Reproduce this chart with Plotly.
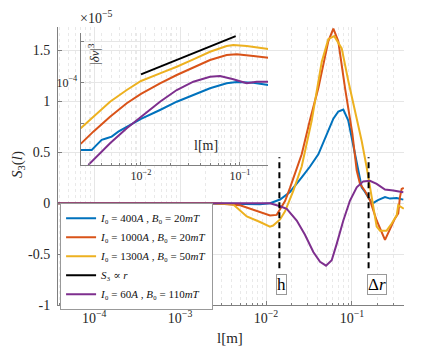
import plotly.graph_objects as go
import numpy as np

# ---------------- main panel: S3(l) in units of 1e-5 ----------------
l_400 = [3.8e-5, 4.5e-4, 0.00381, 0.00851, 0.01114, 0.01456, 0.01664, 0.0190, 0.0260, 0.0325,
         0.0406, 0.0530, 0.0607, 0.0693, 0.0793, 0.0906, 0.1084, 0.1297, 0.1416, 0.1618,
         0.1754, 0.2004, 0.2421, 0.2767, 0.3311, 0.3954]
s3_400 = [0, 0, -0.005, -0.01, 0.0, 0.036, 0.075, 0.11, 0.253, 0.36,
          0.48, 0.71, 0.83, 0.90, 0.92, 0.81, 0.48, 0.156, 0.11, 0.03,
          0.0, 0.03, 0.06, 0.045, 0.05, 0.035]

l_1000 = [3.8e-5, 0.00255, 0.00499, 0.00851, 0.01114, 0.0133, 0.01456, 0.01664, 0.0190, 0.0260,
          0.0325, 0.0406, 0.0530, 0.0607, 0.0693, 0.0830, 0.1011, 0.1135, 0.1239, 0.1416,
          0.1618, 0.1936, 0.2421, 0.2767, 0.3162, 0.3451, 0.3614, 0.3784, 0.40]
s3_1000 = [0, 0, -0.02, -0.088, -0.12, -0.115, -0.06, 0.02, 0.15, 0.48,
           0.82, 1.13, 1.59, 1.715, 1.59, 1.13, 0.68, 0.32, 0.19, 0.12,
           0.03, -0.17, -0.36, -0.25, -0.15, -0.10, 0.06, 0.14, 0.15]

l_1300 = [3.8e-5, 0.00223, 0.00413, 0.00597, 0.00851, 0.0111, 0.0121, 0.0133, 0.01456, 0.01664,
          0.02075, 0.0260, 0.0340, 0.0445, 0.0530, 0.0622, 0.0759, 0.0906, 0.1084, 0.1297,
          0.1483, 0.1694, 0.1936, 0.2118, 0.2529, 0.2897, 0.3311, 0.3451, 0.3784, 0.40]
s3_1300 = [0, 0, -0.01, -0.13, -0.185, -0.23, -0.22, -0.19, -0.16, -0.08,
           0.12, 0.36, 0.81, 1.39, 1.61, 1.64, 1.52, 1.20, 0.90, 0.61,
           0.35, 0.06, -0.23, -0.27, -0.27, -0.20, -0.12, -0.02, -0.04, -0.055]

l_60 = [3.8e-5, 0.01114, 0.01456, 0.01742, 0.02275, 0.02838, 0.0355, 0.0425, 0.0499, 0.0581,
        0.0664, 0.0793, 0.0948, 0.1135, 0.1352, 0.1618, 0.1936, 0.2421, 0.3020, 0.3451, 0.3954]
s3_60 = [0, 0, -0.03, -0.055, -0.17, -0.31, -0.48, -0.575, -0.614, -0.56,
         -0.40, -0.17, 0.026, 0.156, 0.214, 0.22, 0.19, 0.134, 0.124, 0.117, 0.107]

h_value = 0.0143     # position of "h" marker
dr_value = 0.156     # position of "Δr" marker

# ---------------- inset: |δv|^3 ----------------
li_400 = [0.00246, 0.00318, 0.00357, 0.00401, 0.00451, 0.00506, 0.00590, 0.00718, 0.0100, 0.01556,
          0.02296, 0.0338, 0.0498, 0.0734, 0.0927, 0.1362, 0.1932]
dv_400 = [2.23e-6, 2.23e-6, 2.96e-6, 3.92e-6, 4.31e-6, 4.71e-6, 6.24e-6, 8.26e-6, 1.273e-5, 2.11e-5,
          3.36e-5, 4.90e-5, 7.14e-5, 9.46e-5, 1.017e-4, 9.78e-5, 8.59e-5]

li_1000 = [0.00246, 0.00330, 0.00487, 0.00718, 0.0100, 0.01556, 0.02296, 0.0338, 0.0498, 0.0734,
           0.0927, 0.1362, 0.1932]
dv_1000 = [3.13e-6, 6.24e-6, 1.449e-5, 3.08e-5, 5.19e-5, 9.46e-5, 1.507e-4, 2.32e-4, 3.50e-4, 4.63e-4,
           4.82e-4, 4.38e-4, 3.98e-4]

li_1300 = [0.00246, 0.00330, 0.00487, 0.00718, 0.0100, 0.01556, 0.02296, 0.0338, 0.0498, 0.0734,
           0.0856, 0.1169, 0.1592, 0.1932]
dv_1300 = [7.55e-6, 1.449e-5, 3.36e-5, 6.49e-5, 1.076e-4, 1.658e-4, 2.40e-4, 3.64e-4, 5.57e-4, 7.67e-4,
           8.13e-4, 7.67e-4, 6.75e-4, 6.49e-4]

li_60 = [0.00294, 0.00330, 0.00487, 0.00718, 0.0100, 0.01556, 0.02296, 0.0338, 0.0498, 0.0628,
         0.0856, 0.1169, 0.1475, 0.1932]
dv_60 = [9.6e-7, 1.27e-6, 3.25e-6, 7.55e-6, 1.40e-5, 3.36e-5, 6.49e-5, 1.034e-4, 1.369e-4, 1.425e-4,
         1.184e-4, 9.46e-5, 1.034e-4, 1.034e-4]

l_ref = [0.0100, 0.0905]
dv_ref = [1.567e-4, 1.346e-3]

main_xticks = [1e-4, 1e-3, 1e-2, 1e-1]
main_xlabels = ["10<sup>−4</sup>", "10<sup>−3</sup>", "10<sup>−2</sup>", "10<sup>−1</sup>"]
main_yticks = [-1, -0.5, 0, 0.5, 1, 1.5]
main_ylabels = ["-1", "-0.5", "0", "0.5", "1", "1.5"]
inset_xticks = [1e-2, 1e-1]
inset_xlabels = ["10<sup>−2</sup>", "10<sup>−1</sup>"]
inset_yticks = [1e-5, 1e-4, 1e-3]
inset_ylabels = ["", "10<sup>−4</sup>", ""]

names = [
    "<i>I</i>₀ = 400<i>A</i> , <i>B</i>₀ = 20<i>mT</i>",
    "<i>I</i>₀ = 1000<i>A</i> , <i>B</i>₀ = 20<i>mT</i>",
    "<i>I</i>₀ = 1300<i>A</i> , <i>B</i>₀ = 50<i>mT</i>",
    "<i>S</i>₃ ∝ <i>r</i>",
    "<i>I</i>₀ = 60<i>A</i> , <i>B</i>₀ = 110<i>mT</i>",
]
BLUE, RED, YEL, PUR = "#0072BD", "#D95319", "#EDB120", "#7E2F8E"

def minor_vals(lo, hi):
    out = []
    for e in range(lo, hi + 1):
        for k in range(2, 10):
            out.append(k * 10.0 ** e)
    return out

fig = go.Figure()
LW = 2
fig.add_trace(go.Scatter(x=l_400, y=s3_400, mode="lines", line=dict(color=BLUE, width=LW), name=names[0]))
fig.add_trace(go.Scatter(x=l_1000, y=s3_1000, mode="lines", line=dict(color=RED, width=LW), name=names[1]))
fig.add_trace(go.Scatter(x=l_1300, y=s3_1300, mode="lines", line=dict(color=YEL, width=LW), name=names[2]))
fig.add_trace(go.Scatter(x=l_ref, y=dv_ref, mode="lines", line=dict(color="black", width=LW), name=names[3],
                         xaxis="x2", yaxis="y2"))
fig.add_trace(go.Scatter(x=l_60, y=s3_60, mode="lines", line=dict(color=PUR, width=LW), name=names[4]))

for lx, ly, c in [(li_400, dv_400, BLUE), (li_1000, dv_1000, RED), (li_1300, dv_1300, YEL), (li_60, dv_60, PUR)]:
    fig.add_trace(go.Scatter(x=lx, y=ly, mode="lines", line=dict(color=c, width=LW), showlegend=False,
                             xaxis="x2", yaxis="y2"))

for v in (h_value, dr_value):
    fig.add_trace(go.Scatter(x=[v, v], y=[-0.64, 0.45], mode="lines", showlegend=False,
                             line=dict(color="black", width=2, dash="6px,4px")))

AX = "#808080"
GRID = "#e6e6e6"
MGRID = "#e9e9e9"
SERIF = "Liberation Serif, DejaVu Serif, serif"
fig.update_layout(
    width=447, height=348,
    margin=dict(l=58, r=43, t=27, b=43),
    paper_bgcolor="white", plot_bgcolor="rgba(0,0,0,0)",
    font=dict(family=SERIF, size=14, color="#262626"),
    xaxis=dict(type="log", range=[-4.42, -0.395], domain=[0, 1], anchor="y",
               tickvals=main_xticks, ticktext=main_xlabels, ticks="inside", ticklen=4, tickcolor=AX,
               showline=True, linecolor=AX, linewidth=1, showgrid=True, gridcolor=GRID, zeroline=False,
               minor=dict(tickvals=minor_vals(-5, 0), ticks="inside", ticklen=2, tickcolor=AX,
                          showgrid=True, gridcolor=MGRID, griddash="dot")),
    yaxis=dict(range=[-1, 1.73], domain=[0, 1], anchor="x",
               tickvals=main_yticks, ticktext=main_ylabels, ticks="inside", ticklen=4, tickcolor=AX,
               showline=True, linecolor=AX, linewidth=1, showgrid=True, gridcolor=GRID, zeroline=False,
               ticklabelstandoff=4),
    xaxis2=dict(type="log", range=[-2.609, -0.717], domain=[0.0656, 0.607], anchor="y2",
                tickvals=inset_xticks, ticktext=inset_xlabels, ticks="inside", ticklen=3, tickcolor=AX,
                tickfont=dict(size=12),
                showline=True, linecolor=AX, linewidth=1, showgrid=True, gridcolor=GRID, zeroline=False,
                minor=dict(tickvals=minor_vals(-3, -1), ticks="inside", ticklen=2, tickcolor=AX,
                           showgrid=True, gridcolor=MGRID, griddash="dot")),
    yaxis2=dict(type="log", range=[-6.017, -2.798], domain=[0.504, 0.978], anchor="x2",
                tickvals=inset_yticks, ticktext=inset_ylabels, ticks="inside", ticklen=3, tickcolor=AX,
                tickfont=dict(size=12),
                showline=True, linecolor=AX, linewidth=1, showgrid=True, gridcolor=GRID, zeroline=False),
    legend=dict(x=0.006, y=0.368, xanchor="left", yanchor="top", bgcolor="white",
                bordercolor="#999999", borderwidth=1, font=dict(size=11, color="#111111"),
                itemwidth=30, tracegroupgap=0),
    showlegend=True,
)

ann = [
    dict(text="×10<sup>−5</sup>", x=0.058, y=1.0, yshift=10, yanchor="middle", xref="paper", yref="paper",
         showarrow=False, font=dict(size=14)),
    dict(text="<i>S</i><sub>3</sub>(<i>l</i>)", x=0, y=0.504, xshift=-40, xanchor="center", yanchor="middle",
         xref="paper", yref="paper", showarrow=False, textangle=-90, font=dict(size=15)),
    dict(text="l[m]", x=0.497, y=0, yshift=-33, yanchor="middle", xref="paper", yref="paper",
         showarrow=False, font=dict(size=15)),
    dict(text="|<i>δv</i>|<sup>3</sup>", x=0.104, y=0.903, xanchor="center", yanchor="middle",
         xref="paper", yref="paper", showarrow=False, textangle=-90, font=dict(size=13)),
    dict(text="l[m]", x=0.428, y=0.572, xanchor="center", yanchor="middle", xref="paper", yref="paper",
         showarrow=False, font=dict(size=14)),
    dict(text="h", x=0.645, y=0.0755, xref="paper", yref="paper", showarrow=False,
         xanchor="center", yanchor="middle",
         font=dict(size=17, color="black"), bordercolor="#999999", borderwidth=1, borderpad=0, bgcolor="white"),
    dict(text="Δ<i>r</i>", x=0.923, y=0.0755, xref="paper", yref="paper", showarrow=False,
         xanchor="center", yanchor="middle",
         font=dict(size=17, color="black"), bordercolor="#999999", borderwidth=1, borderpad=0, bgcolor="white"),
]
fig.update_layout(annotations=ann)

fig.write_html("out.html", config={"displayModeBar": False},
               post_script="document.body.style.margin='0px';")
